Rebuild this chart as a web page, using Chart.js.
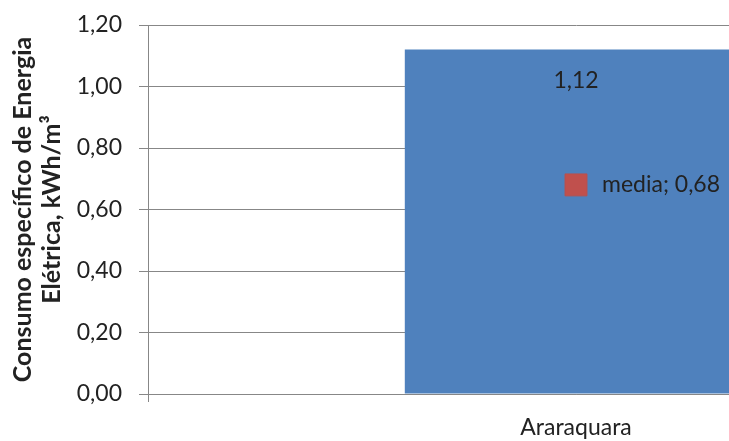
<!DOCTYPE html>
<html>
<head>
<meta charset="utf-8">
<script src="https://cdn.jsdelivr.net/npm/chart.js@4/dist/chart.umd.min.js"></script>
<style>
  html, body { margin: 0; padding: 0; background: #fff; overflow: hidden; }
  #wrap { width: 1050px; height: 441px; }
</style>
</head>
<body>
<div id="wrap"><canvas id="chart" width="1050" height="441"></canvas></div>
<script>
// --- data ---
const categories = ['Araraquara'];
const consumo = [1.12];
const media = [0.68];
const yTitle = ['Consumo específico de Energia', 'Elétrica, kWh/m³'];

const fmt = v => v.toFixed(2).replace('.', ',');
const TEXT = '#222222';
const GRID = '#878787';

// draws the value labels (no datalabels plugin available)
const valueLabels = {
  id: 'valueLabels',
  afterDatasetsDraw(chart) {
    const ctx = chart.ctx;
    ctx.save();
    ctx.font = '23px Lato';
    ctx.fillStyle = TEXT;
    ctx.textBaseline = 'middle';
    chart.getDatasetMeta(0).data.forEach((el, i) => {
      ctx.textAlign = 'center';
      ctx.fillText(fmt(consumo[i]), el.x, el.y + 31);
    });
    chart.getDatasetMeta(1).data.forEach((el, i) => {
      ctx.textAlign = 'left';
      ctx.fillText(chart.data.datasets[1].label + '; ' + fmt(media[i]), el.x + 26, el.y);
    });
    ctx.restore();
  }
};

new Chart(document.getElementById('chart'), {
  type: 'bar',
  data: {
    labels: categories,
    datasets: [
      {
        label: 'Consumo',
        data: consumo,
        backgroundColor: '#4F81BD',
        categoryPercentage: 1,
        barPercentage: 0.4,
        order: 2
      },
      {
        type: 'line',
        label: 'media',
        data: media,
        showLine: false,
        pointStyle: 'rect',
        pointRadius: 15.5,
        pointBackgroundColor: '#C0504D',
        pointBorderColor: '#B9504D',
        pointBorderWidth: 1,
        order: 1
      }
    ]
  },
  plugins: [valueLabels],
  options: {
    responsive: false,
    animation: false,
    devicePixelRatio: 1,
    layout: { autoPadding: false, padding: { left: 0, top: 25, right: 46, bottom: 0 } },
    plugins: { legend: { display: false }, tooltip: { enabled: false } },
    scales: {
      x: {
        offset: true,
        afterFit: s => { s.height = 47; s.paddingLeft = 0; s.paddingRight = 0; },
        grid: { offset: true, drawOnChartArea: false, tickLength: 8, color: GRID },
        border: { display: true, color: GRID },
        ticks: { color: TEXT, font: { family: 'Lato', size: 23 }, padding: 12 }
      },
      y: {
        min: 0,
        max: 1.2,
        afterFit: s => { s.width = 148; s.paddingTop = 0; s.paddingBottom = 0; },
        grid: { color: GRID, tickLength: 9 },
        border: { display: true, color: GRID },
        ticks: {
          stepSize: 0.2,
          color: TEXT,
          font: { family: 'Lato', size: 23 },
          padding: 17,
          callback: v => fmt(v)
        },
        title: {
          display: true,
          text: yTitle,
          color: TEXT,
          font: { family: 'Lato', size: 25, weight: 'bold', lineHeight: '29px' },
          padding: { top: 8, bottom: 0 }
        }
      }
    }
  }
});
</script>
</body>
</html>
